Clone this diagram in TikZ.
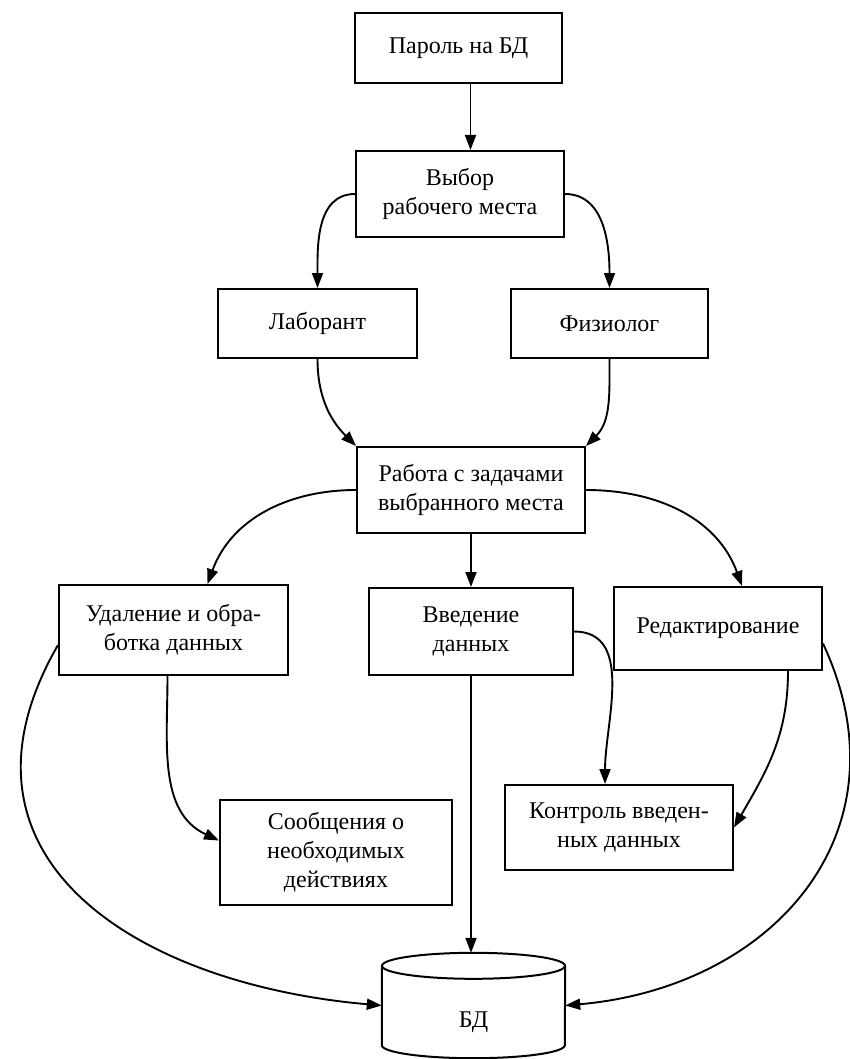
\documentclass[tikz,border=0pt]{standalone}
\usepackage{fontspec}
\setmainfont{Liberation Serif}
\usepackage{tikz}
\usetikzlibrary{arrows.meta}

\begin{document}
\begin{tikzpicture}[x=1pt, y=1pt,
    box/.style={draw, line width=2pt, align=center, inner sep=2pt, font=\fontsize{24}{29}\selectfont},
    arrow/.style={-{Triangle[length=15pt,width=11pt]}, line width=1.9pt},
    drum/.style={line width=2pt}
  ]
    \useasboundingbox (0,0) rectangle (850,-1059);

    \node[box, minimum width=207pt, minimum height=70pt] (parol) at (458.5,-48) {Пароль на БД};
    \node[box, minimum width=208pt, minimum height=86pt] (vybor) at (460,-194) {Выбор\\рабочего места};

    \node[box, minimum width=199pt, minimum height=69pt] (labor)  at (317.5,-323.5) {Лаборант};
    \node[box, minimum width=197pt, minimum height=69pt] (fiziol) at (609.5,-323.5) {Физиолог};

    \node[box, minimum width=228pt, minimum height=86pt] (rabota) at (471,-490) {Работа с задачами\\выбранного места};

    \node[box, minimum width=229pt, minimum height=90pt] (udal)   at (173.5,-630) {Удаление и обра-\\ботка данных};
    \node[box, minimum width=204pt, minimum height=87pt] (vveden) at (471,-631.5) {Введение\\данных};
    \node[box, minimum width=208pt, minimum height=83pt] (redakt) at (718,-628.5) {Редактирование};

    \node[box, minimum width=232pt, minimum height=105pt] (soob)  at (336,-852.5) {Сообщения о\\необходимых\\действиях};
    \node[box, minimum width=228pt, minimum height=85pt]  (kontr) at (619,-827.5) {Контроль введен-\\ных данных};

    % база данных
    \node[font=\fontsize{24}{29}\selectfont, minimum width=183pt, minimum height=105pt,
          text height=44pt, text depth=0pt] (bd) at (473.5,-1005.5) {БД};
    \draw[drum] ([yshift=-13pt]bd.north west) -- ([yshift=13pt]bd.south west)
        arc[start angle=180, end angle=360, x radius=91.5pt, y radius=13pt]
        -- ([yshift=-13pt]bd.north east);
    \draw[drum] ([yshift=-13pt]bd.north) ellipse[x radius=91.5pt, y radius=13pt];

    \draw[arrow] ([xshift=12pt]parol.south) -- ([xshift=12pt]parol.south |- vybor.north);
    \draw[arrow] (vybor.west) to[out=180, in=90] (labor.north);
    \draw[arrow] (vybor.east) to[out=0, in=90] (fiziol.north);
    \draw[arrow] (labor.south) to[out=270, in=135] (rabota.north west);
    \draw[arrow] (fiziol.south) to[out=270, in=45] (rabota.north east);

    \draw[arrow] (rabota.west) to[out=180, in=70] ([xshift=34pt]udal.north);
    \draw[arrow] (rabota.south) -- (vveden.north);
    \draw[arrow] (rabota.east) to[out=0, in=110] ([xshift=24pt]redakt.north);

    \draw[arrow] ([xshift=-6pt]udal.south) to[out=270, in=155] ([yshift=12pt]soob.west);
    \draw[arrow] (vveden.east) to[out=0, in=90] ([xshift=-14pt]kontr.north);
    \draw[arrow] ([xshift=-35pt]redakt.south east) to[out=270, in=60] (kontr.east);

    \draw[arrow] ([yshift=-15pt]udal.west) to[out=240, in=175, looseness=1.3] (bd.west);
    \draw[arrow] (vveden.south) -- (vveden.south |- bd.north);
    \draw[arrow] ([yshift=-15pt]redakt.east) to[out=-65, in=5, looseness=1.2] (bd.east);
\end{tikzpicture}
\end{document}
